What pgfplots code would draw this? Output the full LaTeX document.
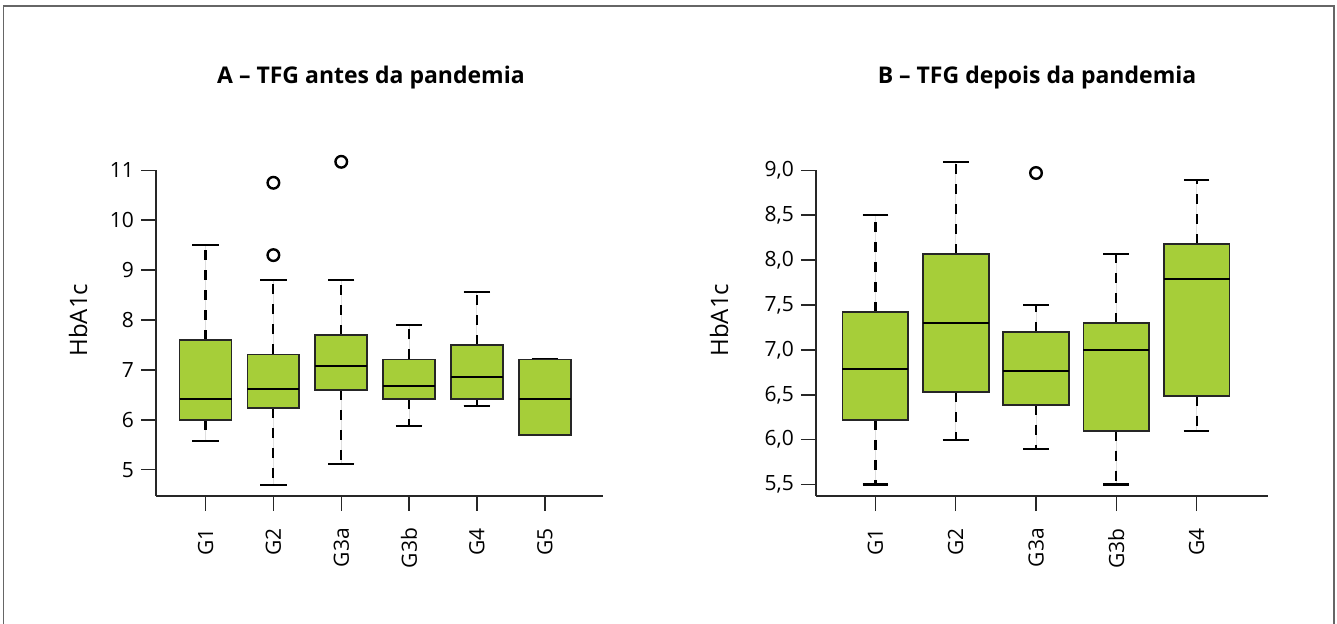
\documentclass[border=0pt]{standalone}
\usepackage{pgfplots}
\pgfplotsset{compat=1.18}
\usepgfplotslibrary{statistics}
\usepackage{fontspec}
\setmainfont{Open Sans}
\definecolor{boxgreen}{HTML}{A6CE39}
\pgfplotsset{
  boxplot/draw direction=y,
  boxplot/draw/lower whisker/.code={%
    \draw[dash pattern=on 5pt off 5pt, line width=1.1pt, black]
      (boxplot box cs:\pgfplotsboxplotvalue{lower quartile},0.5) --
      (boxplot box cs:\pgfplotsboxplotvalue{lower whisker},0.5);
    \draw[solid, line width=1.15pt, black]
      (boxplot whisker cs:\pgfplotsboxplotvalue{lower whisker},0) --
      (boxplot whisker cs:\pgfplotsboxplotvalue{lower whisker},1);
  },
  boxplot/draw/upper whisker/.code={%
    \draw[dash pattern=on 5pt off 5pt, line width=1.1pt, black]
      (boxplot box cs:\pgfplotsboxplotvalue{upper quartile},0.5) --
      (boxplot box cs:\pgfplotsboxplotvalue{upper whisker},0.5);
    \draw[solid, line width=1.15pt, black]
      (boxplot whisker cs:\pgfplotsboxplotvalue{upper whisker},0) --
      (boxplot whisker cs:\pgfplotsboxplotvalue{upper whisker},1);
  },
  boxplot/every median/.style={black, line width=1pt},
  bx/.style={fill=boxgreen, draw=black!85, line width=0.9pt, solid,
    mark=o, mark size=2.9pt, mark options={line width=1.2pt, draw=black, solid}},
  hb/.style={
    scale only axis,
    axis lines=left,
    axis line style={-, black!85, line width=0.75pt},
    tick style={black!85, line width=0.75pt},
    tick align=outside,
    major tick length=7.5pt,
    clip=false,
    xticklabel style={rotate=90, anchor=east, font=\fontsize{10.5}{12}\selectfont},
    xticklabel shift=5pt,
    yticklabel style={anchor=east, font=\fontsize{10.5}{12}\selectfont},
    /pgf/number format/assume math mode=true,
    ylabel={HbA1c},
    ylabel style={anchor=center, font=\fontsize{12}{14}\selectfont},
    title style={anchor=base, font=\bfseries\fontsize{11.5}{14}\selectfont},
  },
}
\begin{document}
\begin{tikzpicture}[x=1pt,y=1pt]
\useasboundingbox (0,0) rectangle (668.5,312);
\draw[black!60, line width=0.9pt] (1.75,0) -- (1.75,309) -- (667,309) -- (667,0);

\begin{axis}[hb,
  at={(78pt,64pt)}, anchor=south west,
  width=223.25pt, height=162.85pt,
  xmin=0.27, xmax=6.85, ymin=4.473, ymax=11,
  xtick={1,2,3,4,5,6},
  xticklabels={G1,G2,G3a,G3b,G4,G5},
  ytick={5,6,7,8,9,10,11},
  boxplot/box extend=0.766,
  boxplot/whisker extend=0.39,
  ylabel style={at={(axis description cs:-0.1747,0.540)}},
  title={A – TFG antes da pandemia},
  title style={at={(axis description cs:0.4815,1.229)}},
]
\addplot[bx, boxplot prepared={draw position=1, lower whisker=5.58, lower quartile=6.0, median=6.42, upper quartile=7.6, upper whisker=9.5}] coordinates {};
\addplot[bx, boxplot prepared={draw position=2, lower whisker=4.69, lower quartile=6.23, median=6.62, upper quartile=7.31, upper whisker=8.8}] coordinates {(0,9.3) (0,10.75)};
\addplot[bx, boxplot prepared={draw position=3, lower whisker=5.12, lower quartile=6.6, median=7.07, upper quartile=7.7, upper whisker=8.8}] coordinates {(0,11.17)};
\addplot[bx, boxplot prepared={draw position=4, lower whisker=5.88, lower quartile=6.41, median=6.68, upper quartile=7.21, upper whisker=7.9}] coordinates {};
\addplot[bx, boxplot prepared={draw position=5, lower whisker=6.28, lower quartile=6.41, median=6.85, upper quartile=7.5, upper whisker=8.56}] coordinates {};
\addplot[bx, boxplot prepared={draw position=6, lower whisker=5.7, lower quartile=5.7, median=6.41, upper quartile=7.21, upper whisker=7.21}] coordinates {};
\end{axis}

\begin{axis}[hb,
  at={(407.95pt,63.9pt)}, anchor=south west,
  width=225.85pt, height=162.95pt,
  xmin=0.259, xmax=5.884, ymin=5.371, ymax=9,
  xtick={1,2,3,4,5},
  xticklabels={G1,G2,G3a,G3b,G4},
  ytick={5.5,6,6.5,7,7.5,8,8.5,9},
  yticklabel style={/pgf/number format/.cd, use comma, fixed, fixed zerofill, precision=1},
  boxplot/box extend=0.82,
  boxplot/whisker extend=0.32,
  ylabel style={at={(axis description cs:-0.2145,0.540)}},
  title={B – TFG depois da pandemia},
  title style={at={(axis description cs:0.4895,1.229)}},
]
\addplot[bx, boxplot prepared={draw position=1, lower whisker=5.5, lower quartile=6.22, median=6.79, upper quartile=7.42, upper whisker=8.5}] coordinates {};
\addplot[bx, boxplot prepared={draw position=2, lower whisker=6.0, lower quartile=6.53, median=7.30, upper quartile=8.07, upper whisker=9.09}] coordinates {};
\addplot[bx, boxplot prepared={draw position=3, lower whisker=5.90, lower quartile=6.39, median=6.76, upper quartile=7.20, upper whisker=7.50}] coordinates {(0,8.97)};
\addplot[bx, boxplot prepared={draw position=4, lower whisker=5.5, lower quartile=6.10, median=7.00, upper quartile=7.30, upper whisker=8.07}] coordinates {};
\addplot[bx, boxplot prepared={draw position=5, lower whisker=6.10, lower quartile=6.49, median=7.79, upper quartile=8.18, upper whisker=8.89}] coordinates {};
\end{axis}
\end{tikzpicture}
\end{document}
